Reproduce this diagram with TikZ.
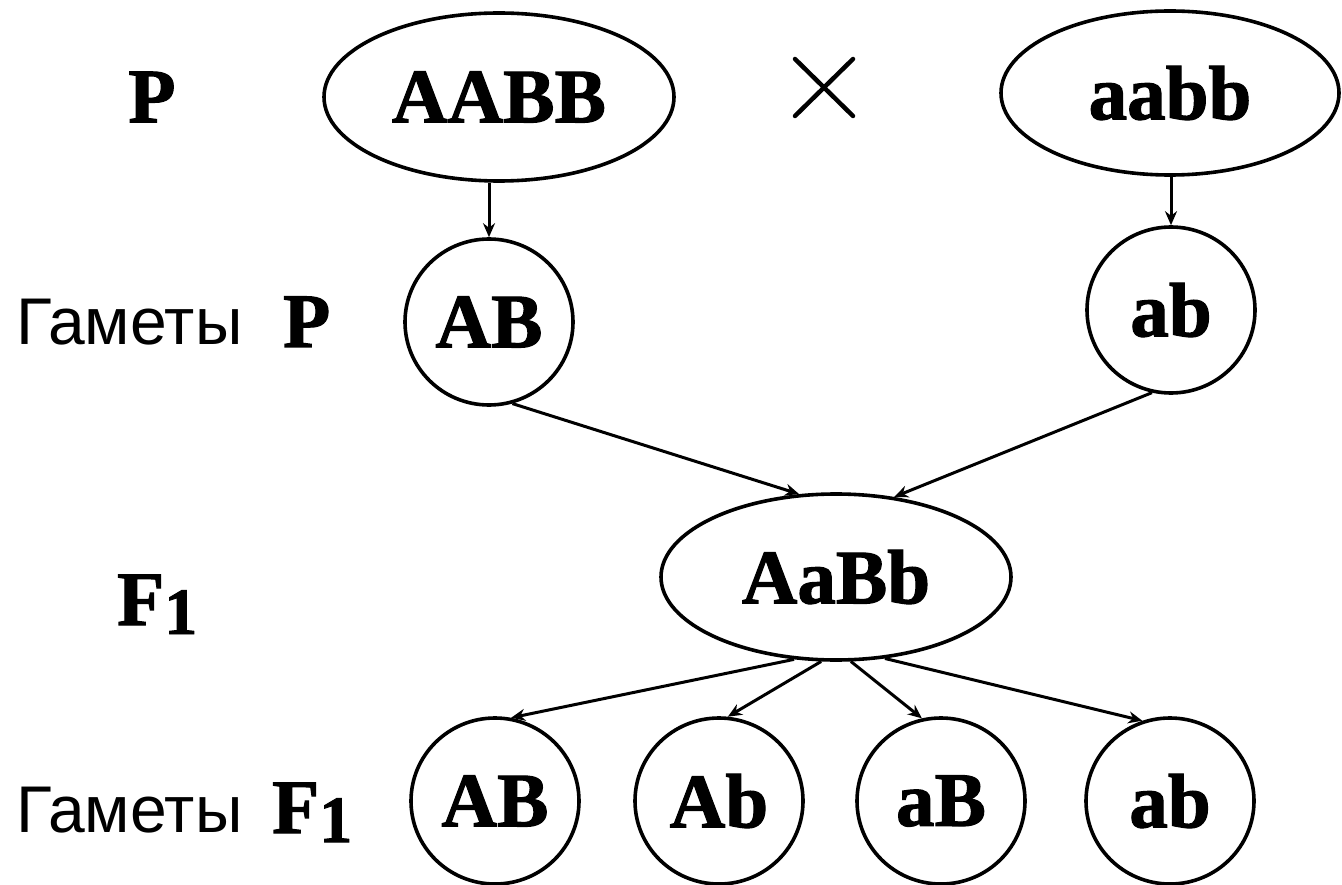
\documentclass[tikz,border=0pt]{standalone}
\usepackage{fontspec}
\setmainfont{Liberation Serif}[BoldFeatures={FakeBold=1.5}]
\newfontfamily\cyrsans{Liberation Sans}
\usetikzlibrary{shapes.geometric,arrows.meta}

\tikzset{
  geno/.style={ellipse, draw, line width=3.6pt, inner sep=0pt,
    font=\fontsize{77}{80}\selectfont\bfseries},
  gam/.style={geno, minimum width=168pt, minimum height=166pt},
  rowlbl/.style={inner sep=0pt, font=\fontsize{77}{80}\selectfont\bfseries},
  rowword/.style={inner sep=0pt, font=\cyrsans\fontsize{66}{70}\selectfont},
  arr/.style={line width=3pt, -{Stealth[length=14pt,width=12pt]}},
}
\newcommand{\Fone}{F\raisebox{-9pt}{\fontsize{66}{70}\selectfont 1}}

\begin{document}
\begin{tikzpicture}[x=1pt,y=-1pt]
  \useasboundingbox (0,0) rectangle (1342,885);

  % parents
  \node[rowlbl] (lblP) at (152,97) {P};
  \node[geno, minimum width=350pt, minimum height=168pt] (AABB) at (499,97) {AABB};
  \node[geno, minimum width=338pt, minimum height=164pt] (aabb) at (1170,93) {aabb};
  % cross sign
  \draw[line width=4.5pt, line cap=round] (795,59) -- (853,116) (795,116) -- (853,59);

  % parental gametes
  \node[rowword, anchor=base west] (wP) at (16,345) {Гаметы};
  \node[rowlbl, anchor=base west] (lblGP) at (283,347) {P};
  \node[gam] (gP1) at (489,322) {AB};
  \node[gam] (gP2) at (1171,310) {ab};

  % F1 hybrid
  \node[rowlbl, anchor=base west] (lblF) at (117,625) {\Fone};
  \node[geno, minimum width=350pt, minimum height=166pt] (F1) at (836,577) {AaBb};

  % F1 gametes
  \node[rowword, anchor=base west] (wF) at (16,832) {Гаметы};
  \node[rowlbl, anchor=base west] (lblGF) at (272,833) {\Fone};
  \node[gam] (g1) at (495,801) {AB};
  \node[gam] (g2) at (719,801) {Ab};
  \node[gam] (g3) at (941,801) {aB};
  \node[gam] (g4) at (1170,801) {ab};

  % connectors
  \draw[arr] (gP1.north |- AABB.south) -- (gP1.north);
  \draw[arr] (gP2.north |- aabb.south) -- (gP2.north);
  \draw[arr] (gP1.-74) -- (F1.114);
  \draw[arr] (gP2.-103) -- (F1.54);
  \draw[arr] (F1.-117) -- (g1.79);
  \draw[arr] (F1.-100) -- (g2.84);
  \draw[arr] (F1.-80) -- (g3.103);
  \draw[arr] (F1.-59) -- (g4.109);
\end{tikzpicture}
\end{document}
